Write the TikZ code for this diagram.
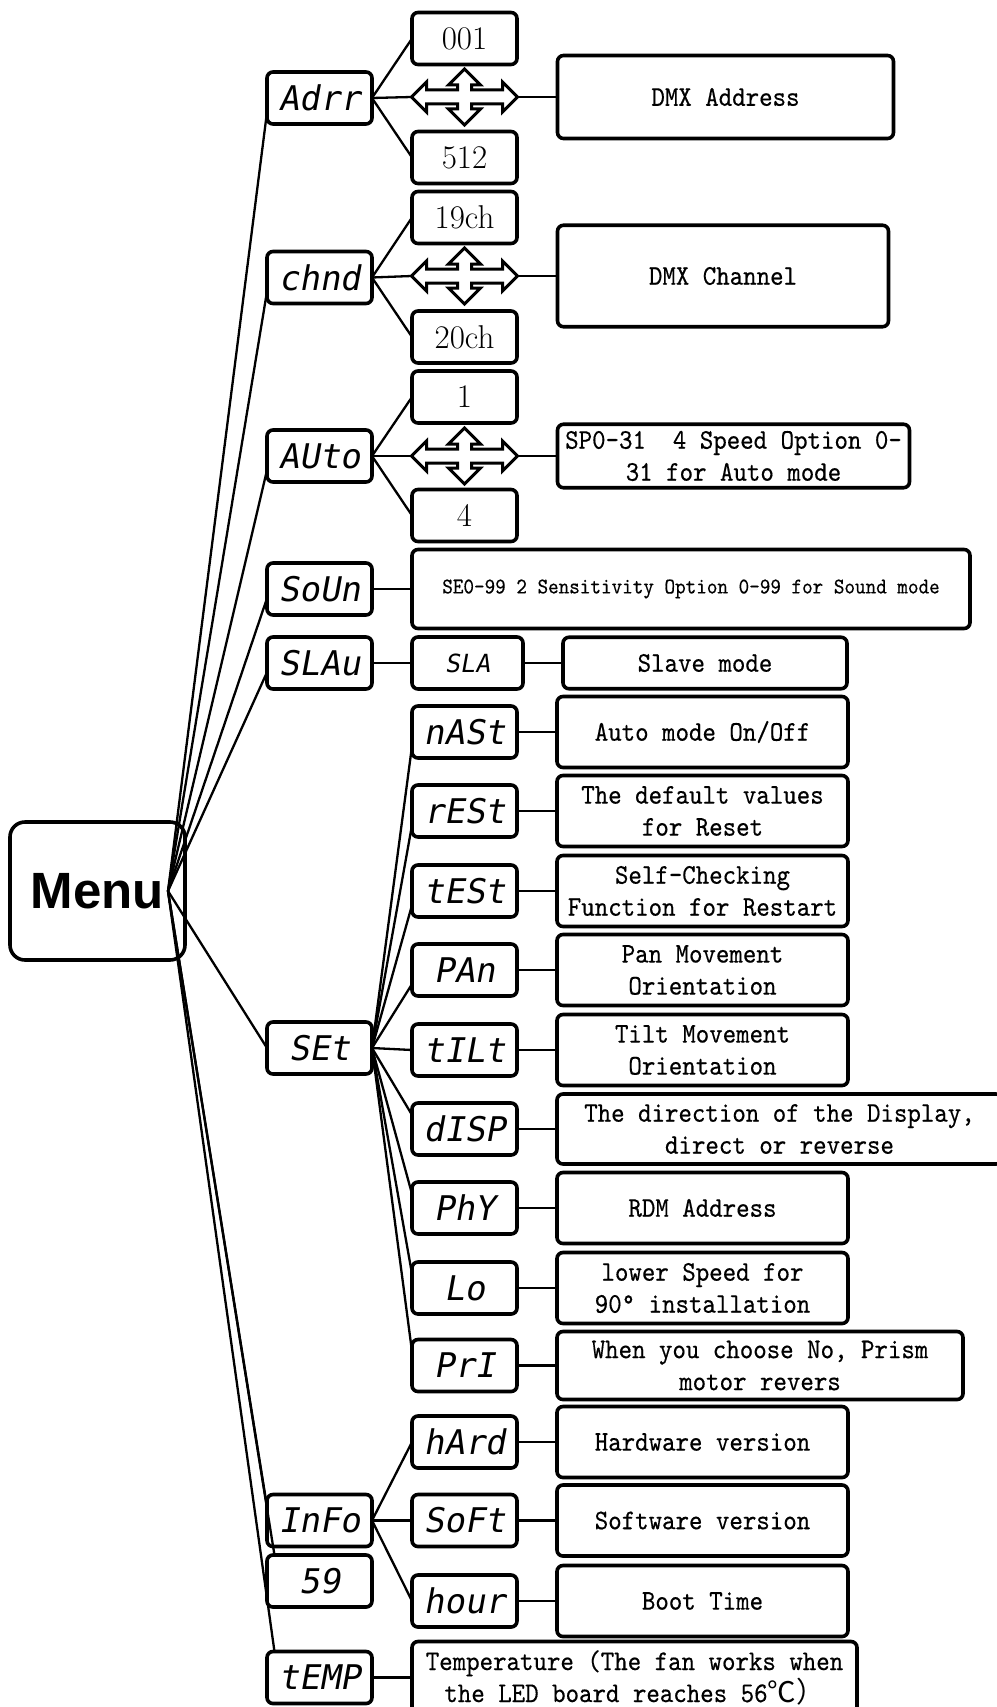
\documentclass[tikz,border=0pt]{standalone}
\usepackage{fontspec}
\usepackage{tikz}
\usetikzlibrary{calc,positioning}
\newfontfamily\segfont{DejaVu Sans Mono}[FakeSlant=0.18]
\newfontfamily\descfont{lmmono10-regular}[Extension=.otf,FakeStretch=0.9,FakeBold=0.4]
\newfontfamily\menufont{Liberation Sans}
\newfontfamily\cjk{Noto Sans CJK SC}
\tikzset{
  link/.style     = {line width=2.3pt},
  box/.style      = {draw, rounded corners=6pt, line width=3.6pt, align=center, inner sep=0pt, outer sep=0pt},
  codebox/.style  = {box, minimum width=105pt, minimum height=52pt, font=\segfont\fontsize{34}{34}\selectfont},
  valbox/.style   = {box, minimum width=105pt, minimum height=52pt, font=\fontsize{33}{33}\selectfont},
  descbox/.style  = {box, minimum width=291pt, minimum height=71pt, font=\descfont\fontsize{28.5}{32}\selectfont},
  menubox/.style  = {box, rounded corners=15pt, minimum width=175pt, minimum height=138pt, font=\menufont\bfseries\fontsize{51}{51}\selectfont},
  arrowspot/.style = {minimum width=106pt, minimum height=56pt, inner sep=0pt, outer sep=0pt},
  glyph/.style    = {draw, fill=white, line width=3pt, line join=miter},
}
\newcommand{\quadarrow}[1]{%
  \draw[glyph, shift={(#1.center)}] (53,0) -- (38,-15) -- (38,-7) -- (7,-7) -- (7,-12) -- (16,-12) -- (0,-28)
    -- (-16,-12) -- (-7,-12) -- (-7,-7) -- (-38,-7) -- (-38,-15) -- (-53,0) -- (-38,15) -- (-38,7) -- (-7,7)
    -- (-7,12) -- (-16,12) -- (0,28) -- (16,12) -- (7,12) -- (7,7) -- (38,7) -- (38,15) -- cycle;}

\begin{document}
\begin{tikzpicture}[x=1pt, y=-1pt]
  \fill[white] (0,0) rectangle (996,1707);
  \useasboundingbox (0,0) rectangle (996,1707);

  \node[menubox] (menu) at (97.5,891) {Menu};
  \coordinate (hub) at ($(menu.east)+(-17,0)$);

  \node[codebox] (adrr) at (319.5,98) {Adrr};
  \node[codebox] (chnd) at (319.5,277.5) {chnd};
  \node[codebox] (auto) at (319.5,456) {AUto};
  \node[codebox] (soun) at (319.5,589) {SoUn};
  \node[codebox] (slau) at (319.5,663) {SLAu};
  \node[codebox] (set)  at (319.5,1048) {SEt};
  \node[codebox] (info) at (319.5,1520.5) {InFo};
  \node[codebox] (sq)   at (319.5,1581) {59};
  \node[codebox] (temp) at (319.5,1677.5) {tEMP};

  \node[valbox] (v001) at (464.5,38.5) {001};
  \node[arrowspot] (arr1) at (464.5,97) {};
  \node[valbox] (v512) at (464.5,157.5) {512};
  \node[descbox, minimum width=336pt, minimum height=83pt, right=40pt of arr1] (dmxaddr) {DMX Address};

  \node[valbox] (v19) at (464.5,217.5) {19ch};
  \node[arrowspot] (arr2) at (464.5,276) {};
  \node[valbox] (v20) at (464.5,337) {20ch};
  \node[descbox, minimum width=331pt, minimum height=101.5pt, right=40pt of arr2] (dmxch) {DMX Channel};

  \node[valbox] (v1) at (464.5,397) {1};
  \node[arrowspot] (arr3) at (464.5,456) {};
  \node[valbox] (v4) at (464.5,515.5) {4};
  \node[descbox, minimum width=352pt, minimum height=63.5pt, right=40pt of arr3] (speed) {SP0-31\ \ 4 Speed Option 0-\\31 for Auto mode};

  \node[descbox, minimum width=558pt, minimum height=79pt, font=\descfont\fontsize{22.4}{26}\selectfont, right=40pt of soun] (sens) {SE0-99 2 Sensitivity Option 0-99 for Sound mode};

  \node[codebox, minimum width=111pt, font=\segfont\fontsize{25}{25}\selectfont, right=40pt of slau] (sla) {SLA};
  \node[descbox, minimum width=284pt, minimum height=51.5pt, right=40pt of sla] (slave) {Slave mode};

  \node[codebox] (nast) at (464.5,732) {nASt};
  \node[codebox] (rest) at (464.5,811) {rESt};
  \node[codebox] (test) at (464.5,891) {tESt};
  \node[codebox] (pan)  at (464.5,970) {PAn};
  \node[codebox] (tilt) at (464.5,1050) {tILt};
  \node[codebox] (disp) at (464.5,1129) {dISP};
  \node[codebox] (phy)  at (464.5,1208) {PhY};
  \node[codebox] (lo)   at (464.5,1288) {Lo};
  \node[codebox] (pri)  at (464.5,1365.5) {PrI};

  \node[descbox, right=40pt of nast] (automode) {Auto mode On/Off};
  \node[descbox, right=40pt of rest] (reset) {The default values\\for Reset};
  \node[descbox, right=40pt of test] (selfchk) {Self-Checking\\Function for Restart};
  \node[descbox, right=40pt of pan] (panmove) {Pan Movement\\Orientation};
  \node[descbox, right=40pt of tilt] (tiltmove) {Tilt Movement\\Orientation};
  \node[descbox, minimum width=445pt, minimum height=70pt, right=40pt of disp] (dispdir) {The direction of the Display,\\direct or reverse};
  \node[descbox, right=40pt of phy] (rdm) {RDM Address};
  \node[descbox, right=40pt of lo] (lowspeed) {lower Speed for\\90° installation};
  \node[descbox, minimum width=406pt, minimum height=68pt, right=40pt of pri] (prism) {When you choose No, Prism\\motor revers};

  \node[codebox] (hard) at (464.5,1442) {hArd};
  \node[codebox] (soft) at (464.5,1520.5) {SoFt};
  \node[codebox] (hour) at (464.5,1601) {hour};
  \node[descbox, right=40pt of hard] (hwver) {Hardware version};
  \node[descbox, right=40pt of soft] (swver) {Software version};
  \node[descbox, right=40pt of hour] (boot) {Boot Time};

  \node[descbox, minimum width=445pt, minimum height=72pt, right=40pt of temp] (tempinfo) {Temperature (The fan works when\\the LED board reaches 56{\cjk ℃）}};

  \draw[link] (hub) -- (adrr.195);
  \draw[link] (hub) -- (chnd.195);
  \draw[link] (hub) -- (auto.195);
  \draw[link] (hub) -- (soun.190);
  \draw[link] (hub) -- (slau.190);
  \draw[link] (hub) -- (set.west);
  \draw[link] (hub) -- (info.165);
  \draw[link] (hub) -- (sq.150);
  \draw[link] (hub) -- (temp.150);

  \draw[link] (adrr.east) -- (v001.west);
  \draw[link] (adrr.east) -- (arr1.west);
  \draw[link] (adrr.east) -- (v512.west);
  \draw[link] (arr1.east) -- (dmxaddr.west);
  \draw[link] (chnd.east) -- (v19.west);
  \draw[link] (chnd.east) -- (arr2.west);
  \draw[link] (chnd.east) -- (v20.west);
  \draw[link] (arr2.east) -- (dmxch.west);
  \draw[link] (auto.east) -- (v1.west);
  \draw[link] (auto.east) -- (arr3.west);
  \draw[link] (auto.east) -- (v4.west);
  \draw[link] (arr3.east) -- (speed.west);
  \draw[link] (soun.east) -- (sens.west);
  \draw[link] (slau.east) -- (sla.west);
  \draw[link] (sla.east) -- (slave.west);

  \draw[link] (set.east) -- (nast.195);
  \draw[link] (set.east) -- (rest.195);
  \draw[link] (set.east) -- (test.195);
  \draw[link] (set.east) -- (pan.195);
  \draw[link] (set.east) -- (tilt.west);
  \draw[link] (set.east) -- (disp.165);
  \draw[link] (set.east) -- (phy.165);
  \draw[link] (set.east) -- (lo.165);
  \draw[link] (set.east) -- (pri.165);
  \draw[link] (nast.east) -- (automode.west);
  \draw[link] (rest.east) -- (reset.west);
  \draw[link] (test.east) -- (selfchk.west);
  \draw[link] (pan.east) -- (panmove.west);
  \draw[link] (tilt.east) -- (tiltmove.west);
  \draw[link] (disp.east) -- (dispdir.west);
  \draw[link] (phy.east) -- (rdm.west);
  \draw[link] (lo.east) -- (lowspeed.west);
  \draw[link] (pri.east) -- (prism.west);

  \draw[link] (info.east) -- (hard.west);
  \draw[link] (info.east) -- (soft.west);
  \draw[link] (info.east) -- (hour.west);
  \draw[link] (hard.east) -- (hwver.west);
  \draw[link] (soft.east) -- (swver.west);
  \draw[link] (hour.east) -- (boot.west);
  \draw[link] (temp.east) -- (tempinfo.west);

  \quadarrow{arr1}
  \quadarrow{arr2}
  \quadarrow{arr3}
\end{tikzpicture}
\end{document}
